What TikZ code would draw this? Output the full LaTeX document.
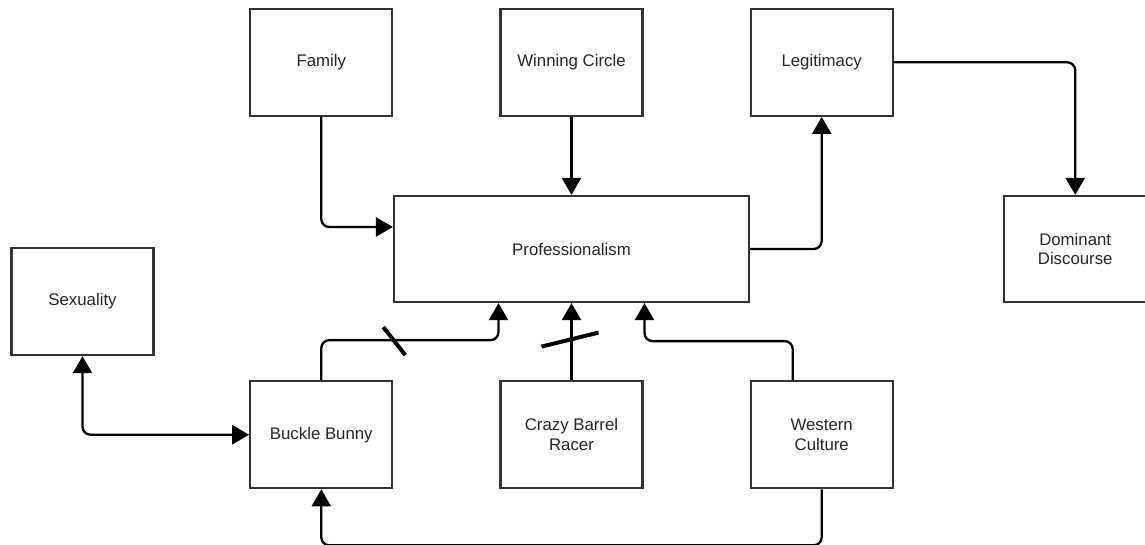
\documentclass[tikz,border=0pt]{standalone}
\usepackage{fontspec}
\setmainfont{Liberation Sans}
\usetikzlibrary{arrows.meta,calc,positioning}

\begin{document}
\begin{tikzpicture}[x=1pt,y=-1pt,
    box/.style={draw=black!80,line width=2.2pt,minimum width=142pt,minimum height=107pt,
        align=center,text=black!85,font=\fontsize{16.8}{19.5}\selectfont},
    link/.style={line width=2.3pt,rounded corners=8pt,-{Triangle[width=19pt,length=17pt]}},
    twoway/.style={link,{Triangle[width=19pt,length=17pt]}-{Triangle[width=19pt,length=17pt]}},
    cut/.style={line width=4pt}]
    \useasboundingbox (0,0) rectangle (1145,544);
    \node[box,minimum width=355pt,minimum height=106pt] (prof) at (571.5,249) {Professionalism};
    \node[box] (win) [above=78pt of prof] {Winning Circle};
    \node[box] (family) [left=106pt of win] {Family};
    \node[box] (legit) [right=106pt of win] {Legitimacy};
    \node[box,minimum height=106pt] (dom) [right=253pt of prof] {Dominant\\Discourse};
    \node[box] (crazy) [below=77pt of prof] {Crazy Barrel\\Racer};
    \node[box] (buckle) [left=106pt of crazy] {Buckle Bunny};
    \node[box] (western) [right=106pt of crazy] {Western\\Culture};
    \node[box] (sex) at (82.5,301.5) {Sexuality};

    \draw[link] (family.south) |- ($(prof.west)+(0,-22)$);
    \draw[link] (win) -- (prof);
    \draw[link] (prof.east) -| (legit.south);
    \draw[link] (legit.east) -| (dom.north);
    \draw[twoway] (sex.south) |- (buckle.west);

    \coordinate (bbin) at ($(prof.south)+(-73,0)$);
    \draw[link] (buckle.north) -- ++(0,-40) coordinate (bbturn) -| (bbin);
    \draw[cut] ($(bbturn)+(62,-13)$) -- ($(bbturn)+(84,15)$);

    \draw[link] (crazy) -- coordinate (crcut) (prof);
    \draw[cut] ($(crcut)+(-30,5)$) -- ($(crcut)+(27,-9)$);

    \coordinate (wcin) at ($(prof.south)+(73,0)$);
    \draw[link] ($(western.north)+(-29,0)$) -- ++(0,-39) -| (wcin);
    \draw[link] (western.south) -- ++(0,56) -| (buckle.south);
\end{tikzpicture}
\end{document}
